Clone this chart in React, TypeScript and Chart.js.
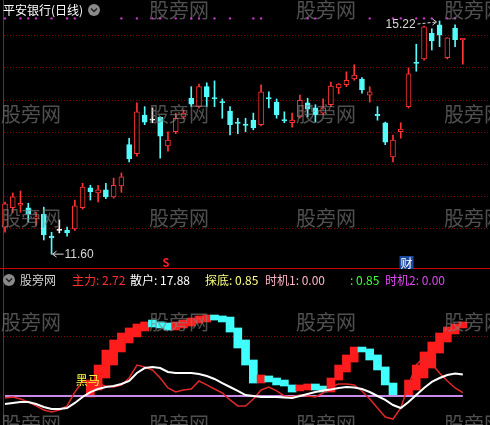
import React, { useEffect, useRef } from "react";
import { Chart, registerables } from "chart.js";

Chart.register(...registerables);

// 平安银行 daily candles
const opens = [12.02, 12.32, 12.36, 12.32, 12.16, 12.22, 11.88, 11.97, 11.97, 11.99, 12.32, 12.63, 12.55, 12.6, 12.49, 12.66, 13.3, 13.16, 13.76, 13.68, 13.73, 13.28, 13.5, 13.73, 14.02, 13.89, 14.2, 14.03, 13.97, 13.82, 13.65, 13.62, 13.68, 13.61, 14.03, 13.96, 13.69, 13.64, 13.73, 13.95, 13.87, 13.79, 13.92, 14.18, 14.23, 14.32, 14.32, 14.07, 13.77, 13.64, 13.11, 13.5, 13.89, 14.58, 14.63, 15.03, 15.16, 14.65, 15.11, 14.93];
const highs = [12.41, 12.55, 12.58, 12.39, 12.25, 12.33, 11.94, 12.13, 12.02, 12.44, 12.7, 12.67, 12.67, 12.7, 12.78, 12.86, 13.4, 13.95, 13.89, 13.87, 13.73, 13.5, 13.79, 13.84, 14.2, 14.24, 14.26, 14.29, 14.01, 13.89, 13.71, 13.71, 13.79, 14.23, 14.12, 14.01, 13.81, 13.79, 14.07, 14.02, 13.92, 14.01, 14.27, 14.25, 14.43, 14.54, 14.34, 14.2, 13.89, 13.65, 13.45, 13.64, 14.49, 14.86, 15.14, 15.1, 15.22, 14.96, 15.16, 14.95];
const lows = [11.94, 12.24, 12.25, 12.1, 12.05, 11.82, 11.6, 11.93, 11.88, 11.97, 12.3, 12.44, 12.41, 12.46, 12.47, 12.56, 13.03, 13.12, 13.61, 13.64, 13.09, 13.2, 13.47, 13.7, 13.89, 13.87, 13.89, 13.89, 13.71, 13.45, 13.47, 13.5, 13.53, 13.59, 13.87, 13.71, 13.64, 13.57, 13.71, 13.73, 13.65, 13.76, 13.89, 14.09, 14.2, 14.3, 14.1, 13.96, 13.68, 13.3, 13.03, 13.4, 13.87, 14.44, 14.61, 14.77, 14.82, 14.63, 14.82, 14.55];
const closes = [12.38, 12.49, 12.39, 12.22, 12.18, 11.9, 11.85, 11.97, 11.93, 12.35, 12.64, 12.57, 12.6, 12.49, 12.67, 12.8, 13.08, 13.81, 13.65, 13.68, 13.43, 13.37, 13.71, 13.79, 13.93, 14.2, 14.04, 14.01, 13.95, 13.61, 13.63, 13.6, 13.56, 14.12, 14.01, 13.76, 13.67, 13.68, 13.99, 13.85, 13.76, 13.87, 14.21, 14.24, 14.3, 14.38, 14.15, 14.12, 13.75, 13.34, 13.37, 13.54, 14.4, 14.56, 15.13, 14.91, 15.0, 14.96, 14.93, 14.95];

// bars that carry a signal dot along the top row
const signalDots = [0, 2, 3, 4, 6, 8, 9, 15, 17, 19, 20, 22, 24, 25, 27, 29, 32, 33, 39, 40, 47, 50, 51, 53, 54, 55, 57, 58];

// indicator panel series
const retail = [-6.7, -5.8, -5, -5, -6.7, -9.2, -10.8, -10.8, -10, -5.8, -0.8, 3.3, 5.8, 7.5, 8.3, 10, 12.5, 19.2, 23.3, 24.2, 23.3, 20, 19.2, 19.2, 19.2, 18.3, 16.7, 14.2, 10.8, 7.5, 4.2, 0.8, 0, -0.8, -0.8, -0.8, -1.2, -1.7, 0, 1.7, 3.3, 4.6, 5.4, 6.7, 7.5, 7.1, 5.8, 3.3, 0, -3.3, -7.5, -10, -5, 0.8, 6.7, 11.7, 15, 17.5, 18.8, 17.88];
const mainForce = [-1.7, -0.8, -2.5, -5, -8.3, -11.7, -13.3, -11.7, -8.3, 3.3, 12.5, 12.5, 10, 8.3, 7.5, 9.2, 15, 25.8, 24.2, 21.7, 15, 6.7, 3.3, 5, 5.8, 12.5, 9.2, 5.8, 2.5, -3.3, -8.3, -8.3, -2.5, 5, 7.5, 4.2, 0, -0.8, 0.8, 0, -0.8, 2.5, 7.5, 10, 10, 9.2, 4.2, -2.5, -10, -17.5, -19.2, -10, 9.2, 25.8, 32.5, 26.7, 19.2, 12.5, 6.7, 2.72];
const trendFast = [null, null, null, null, null, null, null, null, null, null, null, 13.3, 25.8, 38.3, 46.7, 52.5, 56.7, 60, 61.7, 57.5, 56.7, 55, 61.7, 63.3, 65, 66.7, 67.5, 63.3, 61.7, 53.3, 40, 25.8, 10.8, 17.5, 11.7, 9.2, 8.3, 3.3, 9.2, 10, 5, 3.3, 15, 25.8, 34.2, 40.8, 36.7, 30, 21.7, 9.2, 0.8, null, 13.3, 25.8, 36.7, 45, 52.5, 57.5, 60, 61.7];
const trendSlow = [null, null, null, null, null, null, null, null, null, null, null, -0.8, 5, 15, 25.8, 36.7, 44.2, 49.2, 54.2, 63.3, 61.7, 60.8, 55, 56.7, 58.3, 60.8, 61.7, 67.5, 66.7, 65.8, 56.7, 46.7, 30, 10.8, 16.7, 15, 13.3, 9.2, 4.2, 5, 10, 8.3, 3.3, 13.3, 20, 28.3, 40.8, 39.2, 34.2, 24.2, 10.8, null, 0.8, 5, 15, 23.3, 35.8, 45, 51.7, 56.7];

const priceGrid = [12, 12.5, 13, 13.5, 14, 14.5, 15];
const indicatorGrid = [50];
const baseLevel = 0;
const dotLevel = 15.26;

const W = 490;
const H = 425;
const SPLIT_Y = 268;

const UP = "#ff3434";
const DOWN = "#54fcfc";
const FLAT = "#ffffff";
const CJK = '"Noto Sans CJK SC", "Liberation Sans", sans-serif';

const idx = opens.map((_, i) => i);
const candleColor = (i: number) =>
  closes[i] > opens[i] ? UP : closes[i] < opens[i] ? DOWN : FLAT;

const blockIdx = idx.filter((i) => trendFast[i] !== null && trendSlow[i] !== null);

const decor = {
  id: "decor",
  beforeDatasetsDraw(chart: any) {
    const { ctx } = chart;
    const y = chart.scales.y;
    const y2 = chart.scales.y2;
    ctx.save();
    ctx.lineWidth = 1;
    ctx.strokeStyle = "#8a0000";
    ctx.setLineDash([1, 2]);
    const hline = (py: number, x0: number, x1: number) => {
      ctx.beginPath();
      ctx.moveTo(x0, py);
      ctx.lineTo(x1, py);
      ctx.stroke();
    };
    priceGrid.forEach((p) => hline(Math.round(y.getPixelForValue(p)) + 0.5, 4, W));
    indicatorGrid.forEach((v) => hline(Math.round(y2.getPixelForValue(v)) + 0.5, 4, W));
    ctx.setLineDash([]);
    ctx.strokeStyle = "#d00000";
    hline(SPLIT_Y + 0.5, 0, W);
    ctx.beginPath();
    ctx.moveTo(3.5, 0);
    ctx.lineTo(3.5, H);
    ctx.stroke();
    ctx.restore();
  },
  afterDatasetsDraw(chart: any) {
    const { ctx } = chart;
    const x = chart.scales.x;
    const y = chart.scales.y;
    const y2 = chart.scales.y2;
    ctx.save();

    // extreme price markers
    let hi = 0;
    let lo = 0;
    idx.forEach((i) => {
      if (highs[i] > highs[hi]) hi = i;
      if (lows[i] < lows[lo]) lo = i;
    });
    ctx.font = '12px "Liberation Sans", sans-serif';
    ctx.textBaseline = "middle";
    ctx.fillStyle = "#d8d8d8";
    ctx.strokeStyle = "#d8d8d8";
    ctx.lineWidth = 1;
    const hx = x.getPixelForValue(hi);
    const hy = y.getPixelForValue(highs[hi]);
    ctx.textAlign = "right";
    ctx.fillText(highs[hi].toFixed(2), hx - 24, hy + 4);
    ctx.setLineDash([3, 2]);
    ctx.beginPath();
    ctx.moveTo(hx - 22, hy + 3);
    ctx.lineTo(hx - 3, hy + 1);
    ctx.stroke();
    ctx.setLineDash([]);
    ctx.beginPath();
    ctx.moveTo(hx - 7, hy - 2);
    ctx.lineTo(hx - 3, hy + 1);
    ctx.lineTo(hx - 7, hy + 4);
    ctx.stroke();

    const lx = x.getPixelForValue(lo);
    const ly = y.getPixelForValue(lows[lo]);
    ctx.beginPath();
    ctx.moveTo(lx + 1, ly);
    ctx.lineTo(lx + 12, ly);
    ctx.moveTo(lx + 5, ly - 3);
    ctx.lineTo(lx + 1, ly);
    ctx.lineTo(lx + 5, ly + 3);
    ctx.stroke();
    ctx.textAlign = "left";
    ctx.fillText(lows[lo].toFixed(2), lx + 13, ly + 1);

    // signal marks
    ctx.font = "bold 11px " + CJK;
    ctx.textAlign = "center";
    ctx.fillStyle = "#ff2020";
    ctx.fillText("S", x.getPixelForValue(21) - 2, SPLIT_Y - 5);
    const cx = x.getPixelForValue(52) - 2;
    ctx.fillStyle = "#1d4a9c";
    ctx.fillRect(cx - 7, SPLIT_Y - 12, 14, 13);
    ctx.font = "12px " + CJK;
    ctx.fillStyle = "#ffffff";
    ctx.fillText("财", cx, SPLIT_Y - 5);

    ctx.fillStyle = "#ffff3c";
    ctx.textAlign = "left";
    ctx.fillText("黑马", x.getPixelForValue(9) + 1, y2.getPixelForValue(13));

    // titles
    ctx.fillStyle = "#ffffff";
    ctx.fillText("平安银行(日线)", 3, 10);
    const icon = (ix: number, iy: number) => {
      ctx.fillStyle = "#8a8a8a";
      ctx.beginPath();
      ctx.arc(ix, iy, 6, 0, Math.PI * 2);
      ctx.fill();
      ctx.strokeStyle = "#202020";
      ctx.lineWidth = 1.5;
      ctx.beginPath();
      ctx.moveTo(ix - 3, iy - 1.5);
      ctx.lineTo(ix, iy + 1.5);
      ctx.lineTo(ix + 3, iy - 1.5);
      ctx.stroke();
    };
    icon(94, 10);
    icon(9, 280);

    const header: [string, string, number][] = [
      ["股旁网", "#d0d0d0", 20],
      ["主力: " + mainForce[mainForce.length - 1].toFixed(2), "#ff3030", 72],
      ["散户: " + retail[retail.length - 1].toFixed(2), "#ffffff", 130],
      ["探底: 0.85", "#ffff80", 205],
      ["时机1: 0.00", "#ffb4c8", 265],
      [": 0.85", "#40ff40", 350],
      ["时机2: 0.00", "#e048f0", 385],
    ];
    ctx.font = "12px " + CJK;
    ctx.textAlign = "left";
    header.forEach(([t, c, px]) => {
      ctx.fillStyle = c;
      ctx.fillText(t, px, 280);
    });

    // site watermark
    ctx.font = "20px " + CJK;
    ctx.fillStyle = "rgba(128,128,128,0.62)";
    ctx.textBaseline = "top";
    [0, 104, 208, 312, 414].forEach((wy, r) => {
      [1, 149, 296, 444].forEach((wx) => {
        if (r === 0 && wx < 100) return;
        ctx.fillText("股旁网", wx, wy);
      });
    });
    ctx.restore();
  },
};

export default function App() {
  const ref = useRef<HTMLCanvasElement | null>(null);

  useEffect(() => {
    if (!ref.current) return;
    const colors = idx.map(candleColor);
    const chart = new Chart(ref.current, {
      data: {
        datasets: [
          {
            type: "bar",
            label: "K线",
            data: idx.map((i) => ({ x: i, y: [opens[i], closes[i]] })) as any,
            backgroundColor: idx.map((i) => (colors[i] === UP ? "#000000" : colors[i])),
            borderColor: colors,
            borderWidth: 1,
            borderSkipped: false,
            barThickness: 5,
            minBarLength: 1,
            grouped: false,
            yAxisID: "y",
            order: 1,
          },
          {
            type: "bar",
            label: "影线",
            data: idx.map((i) => ({ x: i, y: [lows[i], highs[i]] })) as any,
            backgroundColor: colors,
            barThickness: 1,
            grouped: false,
            yAxisID: "y",
            order: 2,
          },
          {
            type: "scatter",
            label: "信号",
            data: signalDots.map((i) => ({ x: i, y: dotLevel })),
            backgroundColor: "#c838c8",
            pointRadius: 1.2,
            pointBorderWidth: 0,
            yAxisID: "y",
            order: 3,
          },
          {
            type: "bar",
            label: "趋势",
            data: blockIdx.map((i) => ({ x: i, y: [trendSlow[i], trendFast[i]] })) as any,
            backgroundColor: blockIdx.map((i) =>
              (trendFast[i] as number) >= (trendSlow[i] as number) ? "#ff1c1c" : "#40ffff"
            ),
            barThickness: 8,
            grouped: false,
            yAxisID: "y2",
            order: 9,
          },
          {
            type: "line",
            label: "基准",
            data: idx.map((i) => ({ x: i, y: baseLevel })),
            borderColor: "#c88ae8",
            borderWidth: 2,
            pointRadius: 0,
            yAxisID: "y2",
            order: 8,
          },
          {
            type: "line",
            label: "主力",
            data: idx.map((i) => ({ x: i, y: mainForce[i] })),
            borderColor: "#e02828",
            borderWidth: 1.5,
            pointRadius: 0,
            yAxisID: "y2",
            order: 7,
          },
          {
            type: "line",
            label: "散户",
            data: idx.map((i) => ({ x: i, y: retail[i] })),
            borderColor: "#ffffff",
            borderWidth: 2,
            pointRadius: 0,
            yAxisID: "y2",
            order: 6,
          },
        ],
      },
      options: {
        responsive: false,
        animation: false,
        devicePixelRatio: 1,
        layout: { padding: 0, autoPadding: false },
        plugins: { legend: { display: false }, tooltip: { enabled: false } },
        scales: {
          x: { type: "linear", offset: false, min: -0.644, max: 62.5, display: false },
          y: { type: "linear", min: 8.947, max: 15.546, display: false },
          y2: { type: "linear", min: -24.17, max: 330, display: false },
        },
      },
      plugins: [decor],
    } as any);
    return () => chart.destroy();
  }, []);

  return (
    <div style={{ position: "fixed", left: 0, top: 0, width: W, height: H, background: "#000" }}>
      <canvas ref={ref} width={W} height={H} style={{ display: "block" }} />
    </div>
  );
}
